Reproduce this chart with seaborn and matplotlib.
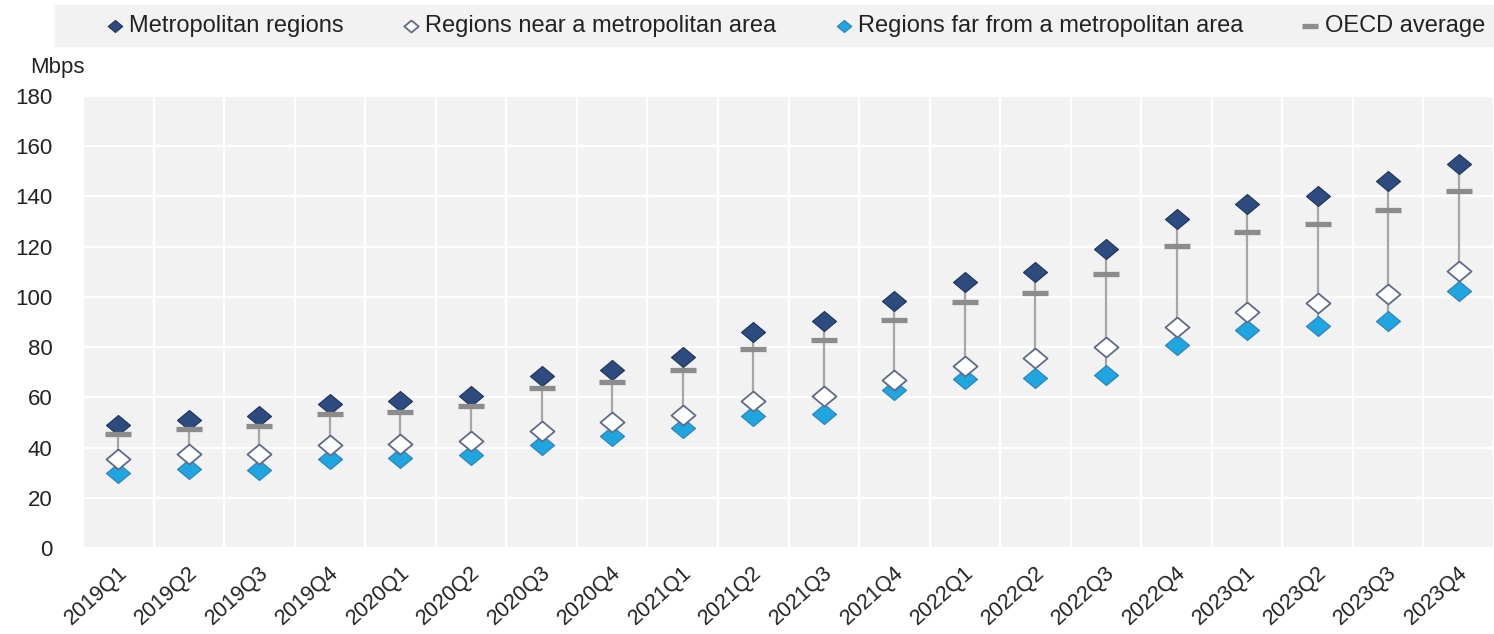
import pandas as pd
import seaborn as sns
import matplotlib.pyplot as plt
from matplotlib.ticker import FixedLocator, MultipleLocator
from matplotlib.transforms import ScaledTranslation

# Quarter labels
quarters = ['2019Q1', '2019Q2', '2019Q3', '2019Q4',
            '2020Q1', '2020Q2', '2020Q3', '2020Q4',
            '2021Q1', '2021Q2', '2021Q3', '2021Q4',
            '2022Q1', '2022Q2', '2022Q3', '2022Q4',
            '2023Q1', '2023Q2', '2023Q3', '2023Q4']

# Median fixed download speed (Mbps)
metro = [49, 51, 52.5, 57.5, 58.5, 60.5, 68.5, 71, 76, 86,
         90.5, 98.5, 106, 110, 119, 131, 137, 140, 146, 153]
near = [35.5, 37.5, 37.5, 41, 41.4, 42.6, 46.6, 50, 53, 58.5,
        60.5, 67, 72.5, 75.5, 80, 88, 94, 97.5, 101, 110.5]
far = [30, 31.3, 31.2, 35.3, 35.7, 37, 41, 44.5, 47.7, 52.5,
       53.4, 62.8, 67.5, 67.8, 68.8, 81, 86.8, 88.3, 90.3, 102.3]
oecd = [45.5, 47.3, 48.5, 53.3, 54.3, 56.5, 63.8, 66, 70.8, 79.2,
        83, 90.8, 97.8, 101.5, 109, 120.3, 126, 129, 134.5, 142]

df = pd.DataFrame({'quarter': quarters, 'metro': metro, 'near': near,
                   'far': far, 'oecd': oecd})

sns.set_style('white')
plt.rcParams['font.family'] = ['Liberation Sans', 'DejaVu Sans']

fig = plt.figure(figsize=(14.94, 6.34), dpi=100)
ax = fig.add_axes([83 / 1494, 1 - 548 / 634, 1 - 83 / 1494, (548 - 96) / 634])
ax.set_facecolor('#f2f2f2')

# legend band behind the legend
fig.patches.append(plt.Rectangle((55 / 1494, 1 - 46 / 634), 1 - 55 / 1494, 41 / 634,
                                 transform=fig.transFigure, color='#f2f2f2', zorder=-5))

diamond = [(0, 1), (1.2, 0), (0, -1), (-1.2, 0), (0, 1)]

# high-low line from lowest to highest value
x_idx = range(len(quarters))
ax.vlines(x_idx, df['far'], df['metro'], color='#a6a6a6', lw=1.6, zorder=2)

sns.scatterplot(data=df, x='quarter', y='metro', marker=diamond, s=300,
                color='#2d4b7e', edgecolor='#1f355a', linewidth=0.8,
                label='Metropolitan regions', ax=ax, zorder=4)
sns.scatterplot(data=df, x='quarter', y='near', marker=diamond, s=300,
                color='white', edgecolor='#5f6b86', linewidth=1.3,
                label='Regions near a metropolitan area', ax=ax, zorder=4)
sns.scatterplot(data=df, x='quarter', y='far', marker=diamond, s=300,
                color='#1fa6e0', edgecolor='#2f7fb8', linewidth=0.8,
                label='Regions far from a metropolitan area', ax=ax, zorder=3)
sns.scatterplot(data=df, x='quarter', y='oecd', marker='_', s=360,
                color='#8c8c8c', linewidth=3.8,
                label='OECD average', ax=ax, zorder=5)

ax.set_xlim(-0.5, len(quarters) - 0.5)
ax.set_ylim(0, 180)
ax.yaxis.set_major_locator(MultipleLocator(20))
ax.xaxis.set_minor_locator(FixedLocator([i + 0.5 for i in range(-1, len(quarters))]))
ax.grid(axis='y', which='major', color='white', lw=1.6)
ax.grid(axis='x', which='minor', color='white', lw=1.6)
ax.set_axisbelow(True)
for s in ax.spines.values():
    s.set_visible(False)
ax.set_xlabel('')
ax.set_ylabel('')
ax.tick_params(axis='both', which='both', length=0)
ax.tick_params(axis='y', labelsize=16, pad=22, labelcolor='#222222')
ax.tick_params(axis='x', labelsize=15.5, pad=16, labelcolor='#222222')
shift = ScaledTranslation(6 / 100, 0, fig.dpi_scale_trans)
for lab in ax.get_xticklabels():
    lab.set_rotation(42)
    lab.set_ha('right')
    lab.set_va('center')
    lab.set_rotation_mode('anchor')
    lab.set_transform(lab.get_transform() + shift)

fig.text(30 / 1494, 1 - 73 / 634, 'Mbps', fontsize=16, color='#222222',
         va='baseline', ha='left')

leg = ax.legend(loc='center', ncol=4, frameon=False,
                bbox_to_anchor=(794 / 1494, 1 - 26 / 634),
                bbox_transform=fig.transFigure, fontsize=17, markerscale=0.6,
                handletextpad=0.1, handlelength=1.0, columnspacing=2.35,
                borderaxespad=0, borderpad=0.3)
for t in leg.get_texts():
    t.set_color('#222222')

plt.savefig('out.png', dpi=100)
